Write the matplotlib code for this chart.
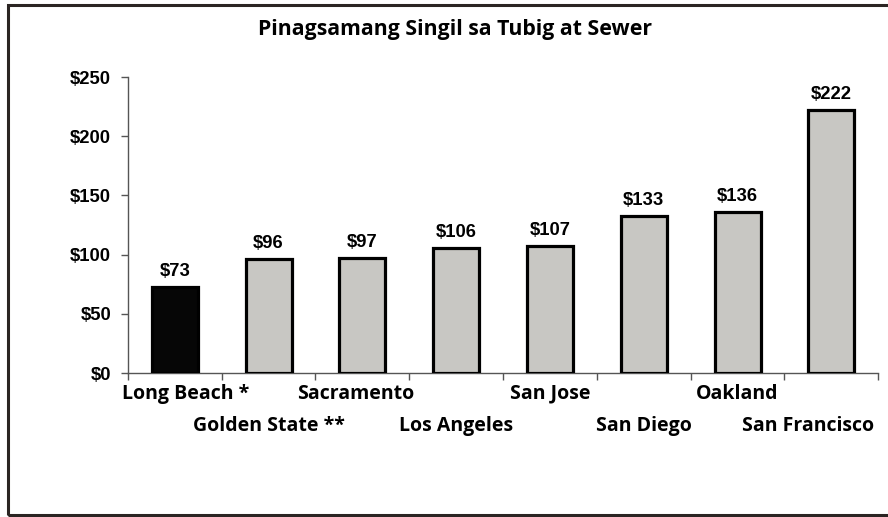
import matplotlib.pyplot as plt
from matplotlib.patches import Rectangle
from matplotlib.transforms import blended_transform_factory

# Data
cities = ["Long Beach *", "Golden State **", "Sacramento", "Los Angeles",
          "San Jose", "San Diego", "Oakland", "San Francisco"]
charges = [73, 96, 97, 106, 107, 133, 136, 222]
bar_colors = ["#060606", "#c8c7c3", "#c8c7c3", "#c8c7c3",
              "#c8c7c3", "#c8c7c3", "#c8c7c3", "#c8c7c3"]
yticks = [0, 50, 100, 150, 200, 250]

arial = "Liberation Sans"
calibri = "Open Sans"

fig = plt.figure(figsize=(8.88, 5.17), dpi=100)
ax = fig.add_axes([0.144, 0.2785, 0.845, 0.5725])

x = list(range(len(cities)))
ax.bar(x, charges, width=0.49, color=bar_colors, edgecolor="black", linewidth=2.3, zorder=3)

# value labels above bars
for xi, v in zip(x, charges):
    ax.annotate(f"${v}", (xi, v), xytext=(0, 5), textcoords="offset points",
                ha="center", va="bottom", fontsize=13.3, fontweight="bold", family=arial)

ax.set_xlim(-0.5, len(cities) - 0.5)
ax.set_ylim(0, 250)
ax.set_yticks(yticks)
ax.set_yticklabels([f"${t}" for t in yticks], fontsize=13.3, fontweight="bold", family=arial)

# ticks at the category boundaries, labels written separately (staggered)
ax.set_xticks([i - 0.5 for i in range(len(cities) + 1)])
ax.set_xticklabels([])
ax.tick_params(axis="both", direction="out", length=5, width=1, color="#555555")
ax.tick_params(axis="y", pad=7)

for side in ["top", "right"]:
    ax.spines[side].set_visible(False)
for side in ["left", "bottom"]:
    ax.spines[side].set_color("#555555")
    ax.spines[side].set_linewidth(1)

# staggered category labels
trans = blended_transform_factory(ax.transData, ax.transAxes)
shift = [0.12, 0, -0.07, 0, 0, 0, 0, -0.25]
for i, name in enumerate(cities):
    row_y = -0.07 if i % 2 == 0 else -0.18
    ax.text(i + shift[i], row_y, name, transform=trans, ha="center", va="center",
            fontsize=14, fontweight="bold", family=calibri)

fig.text(0.512, 0.943, "Pinagsamang Singil sa Tubig at Sewer", ha="center", va="center",
         fontsize=15.3, fontweight="bold", family=calibri)

# outer frame (right side runs off the image)
fig.patches.append(Rectangle((0.009, 0.003), 1.1, 0.987, transform=fig.transFigure,
                             fill=False, edgecolor="#2b2523", linewidth=2.2))

fig.savefig("out.png", dpi=100)
